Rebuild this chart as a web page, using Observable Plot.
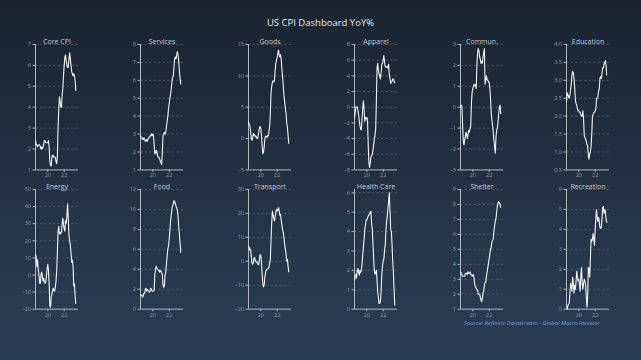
<!DOCTYPE html>
<html>
<head>
<meta charset="utf-8">
<script src="https://cdn.jsdelivr.net/npm/d3@7"></script>
<script src="https://cdn.jsdelivr.net/npm/@observablehq/plot@0.6"></script>
<style>
  html, body { margin: 0; padding: 0; }
  #root {
    position: relative; width: 641px; height: 360px; overflow: hidden;
    background: linear-gradient(180deg, #1b2330 0%, #243244 55%, #2c3e54 100%);
    font-family: "Open Sans", "DejaVu Sans", sans-serif;
  }
  #title {
    position: absolute; left: 0; width: 641px; top: 16px; text-align: center;
    color: #e6eaee; font-size: 9.5px;
  }
  #source {
    position: absolute; left: 464px; top: 319px; color: #7b9fd6;
    font-size: 5.9px; font-style: italic; white-space: nowrap;
  }
  .panel { position: absolute; }
</style>
</head>
<body>
<div id="root">
  <div id="title">US CPI Dashboard YoY%</div>
  <div id="source">Source: Refinitiv Datastream - Global Macro Investor</div>
</div>
<script>
// Monthly observations, Jul 2018 – Jun 2023
const months = d3.utcMonth.range(new Date(Date.UTC(2018, 6, 1)), new Date(Date.UTC(2023, 6, 1)));
const xTicks = [new Date(Date.UTC(2020, 0, 1)), new Date(Date.UTC(2022, 0, 1))];

const titles = ["Core CPI", "Services", "Goods", "Apparel", "Commun.", "Education",
                "Energy", "Food", "Transport", "Health Care", "Shelter", "Recreation"];

const coreCPI = [2.4,2.2,2.2,2.1,2.2,2.2, 2.2,2.1,2.0,2.1,2.0,2.1,2.2,2.4,2.4,2.3,2.3,2.3,
  2.3,2.4,2.1,1.4,1.2,1.2,1.6,1.7,1.7,1.6,1.6,1.6, 1.4,1.3,1.6,3.0,3.8,4.5,4.3,4.0,4.0,4.6,4.9,5.5,
  6.0,6.4,6.5,6.2,6.0,5.9,5.9,6.3,6.6,6.3,6.0,5.7, 5.6,5.5,5.6,5.5,5.3,4.8];
const services = [2.9,2.8,2.8,2.7,2.7,2.8, 2.7,2.6,2.6,2.7,2.6,2.7, 2.8,2.8,2.9,2.9,3.0,2.9,
  3.0,2.9,2.4,1.9,1.9,2.1, 2.0,1.8,1.7,1.7,1.6,1.5, 1.4,1.3,2.0,2.9,3.0,3.1,
  3.0,3.1,3.4,3.7,4.0,4.4, 4.7,5.0,5.2,5.5,5.9,6.2, 6.2,6.7,7.2,7.3,7.2,7.4, 7.6,7.4,7.1,6.5,6.1,5.8];
const goods = [2.7,2.2,2.0,1.2,0.0,-0.3, 0.2,0.8,0.5,0.6,0.3,0.4, 0.1,0.0,0.3,1.0,1.7,1.9,
  1.6,0.5,-1.2,-2.4,-2.2,-1.2, 0.0,0.4,0.3,0.2,0.5,0.4, 1.2,2.0,4.0,7.3,8.3,9.0,
  9.2,9.0,9.3,10.8,12.0,12.5, 13.0,13.6,14.1,13.3,13.0,13.4, 12.5,11.0,9.8,8.3,6.8,5.8, 4.8,4.0,2.5,1.8,0.5,-0.8];
const apparel = [-1.4,-0.6,0.0,0.1,0.0,-0.4, -1.0,-1.8,-2.4,-2.8,-2.9,-1.5, -0.2,0.8,-0.3,-1.8,-1.3,-1.5,
  -1.3,-1.6,-4.5,-7.0,-7.7,-7.1, -6.4,-6.2,-6.0,-5.5,-4.8,-4.1, -3.6,-2.7,0.5,5.0,5.6,4.6,
  4.2,4.0,3.6,4.5,5.5,5.6, 6.0,6.6,5.8,5.2,5.1,5.1, 5.2,5.0,5.5,4.1,3.6,3.0, 3.3,3.3,3.6,3.6,3.3,3.1];
const commun = [0.0,0.1,0.0,-0.8,-1.6,-1.8, -1.6,-1.4,-1.2,-1.3,-1.5,-1.3, -1.1,-1.2,-1.0,-0.9,0.2,0.7,
  0.9,1.0,1.1,1.1,1.0,0.9, 2.0,2.6,2.8,2.7,2.4,2.3, 2.1,2.2,2.1,2.4,2.6,2.8,
  1.1,1.3,1.5,1.3,1.3,1.2, 1.2,0.9,0.4,-0.3,-0.6,-0.9, -1.2,-1.6,-1.9,-2.2,-1.4,-1.1, -1.0,-0.7,-0.3,0.0,0.1,-0.3];
const education = [2.4,2.65,2.6,2.55,2.5,2.6, 2.75,2.9,3.15,3.25,3.2,3.05, 2.8,2.45,2.35,2.3,2.2,2.15,
  2.15,2.1,2.1,2.05,2.0,2.0, 2.15,1.9,1.45,1.4,1.35,1.3, 1.2,1.15,0.9,0.8,0.95,1.0,
  1.15,1.5,2.0,2.05,2.1,2.1, 2.15,2.2,2.5,2.5,2.55,2.7, 2.75,3.05,3.1,3.05,3.2,3.35, 3.35,3.45,3.5,3.55,3.4,3.15];
const energy = [12.1,10.2,4.8,8.9,3.1,0.3, -4.8,-5.0,-0.4,1.7,-0.6,-3.4, -2.0,-4.4,-4.8,-4.2,-0.6,3.4,
  6.2,2.8,-5.7,-17.7,-18.9,-12.6, -11.2,-9.0,-7.7,-9.2,-9.4,-7.0, -3.6,2.4,13.2,25.1,28.5,24.5,
  23.8,25.0,24.8,30.0,33.3,29.3, 27.0,25.6,32.0,30.3,34.6,41.6, 32.9,23.8,19.8,17.6,13.1,7.3, 8.7,5.2,-6.4,-5.1,-11.7,-16.7];
const food = [1.4,1.4,1.4,1.2,1.4,1.6, 1.6,2.0,2.1,1.8,2.0,1.9, 1.8,1.7,1.8,2.1,2.0,1.8,
  1.8,1.8,1.9,3.5,4.0,4.3, 4.1,4.0,3.9,3.9,3.7,3.9, 3.8,3.6,3.5,2.4,2.2,2.4,
  3.4,3.7,4.6,5.3,6.1,6.3, 7.0,7.9,8.8,9.4,10.0,10.4, 10.5,10.9,10.8,10.6,10.3,10.2, 9.9,9.3,8.3,7.5,6.6,5.7];
const transport = [6.3,5.8,4.6,5.0,2.5,-0.5, -1.2,-0.5,1.2,1.6,0.3,-0.3, 0.0,-0.8,-1.2,-1.4,0.8,2.8,
  2.5,-0.5,-5.5,-9.5,-10.7,-9.8, -6.5,-4.8,-3.5,-3.4,-3.3,-2.8, -2.5,-0.5,0.5,9.0,16.0,21.0,
  19.5,18.0,16.9,18.5,20.5,21.8, 21.0,21.5,22.5,21.0,19.2,19.5, 17.0,15.0,13.0,12.0,9.5,7.0, 5.0,3.0,0.2,0.8,-2.0,-4.4];
const healthCare = [1.5,1.7,1.8,1.6,2.0,2.1, 1.9,1.75,2.0,1.9,2.0,2.3, 2.8,3.2,3.6,4.1,4.3,4.6,
  4.6,4.7,4.8,4.85,4.9,5.0, 5.05,4.4,4.1,3.4,2.6,2.0, 1.8,1.9,2.0,1.5,0.9,0.6,
  0.3,0.3,0.4,1.0,1.8,2.2, 2.5,2.6,3.0,3.3,4.0,4.5, 4.8,5.2,5.6,6.0,5.0,4.1, 4.0,3.3,2.5,1.9,1.0,0.2];
const shelter = [3.5,3.4,3.3,3.2,3.2,3.2, 3.2,3.4,3.4,3.4,3.3,3.5, 3.4,3.4,3.5,3.3,3.3,3.2,
  3.3,3.3,3.0,2.6,2.5,2.4, 2.3,2.3,2.0,2.0,2.0,1.8, 1.6,1.5,1.7,2.1,2.2,2.6,
  2.8,2.8,3.2,3.5,3.8,4.1, 4.4,4.7,5.0,5.1,5.5,5.6, 5.7,6.2,6.6,6.9,7.1,7.5, 7.9,8.1,8.2,8.1,8.0,7.8];
const recreation = [0.1,0.0,0.2,0.25,0.3,0.8, 1.3,1.1,0.9,1.6,1.3,0.8, 1.2,1.0,1.4,1.9,1.6,1.4,
  1.5,1.2,0.9,1.7,2.1,1.3, 1.0,1.3,1.5,1.4,1.2,0.6, 0.1,0.7,2.1,2.0,1.6,2.5,
  3.5,3.4,3.5,3.8,3.5,3.2, 4.0,4.6,5.0,4.6,4.4,4.6, 4.4,4.1,4.05,4.1,4.5,5.1, 5.15,4.8,5.0,4.9,4.5,4.35];

// y-axis tick labels per panel
const yTicks = [
  [1,2,3,4,5,6,7], [1,2,3,4,5,6,7,8], [-5,0,5,10,15], [-8,-6,-4,-2,0,2,4,6,8],
  [-3,-2,-1,0,1,2,3], [0.5,1.0,1.5,2.0,2.5,3.0,3.5,4.0],
  [-20,-10,0,10,20,30,40,50], [0,2,4,6,8,10,12], [-20,-10,0,10,20,30],
  [0,1,2,3,4,5,6], [1,2,3,4,5,6,7,8,9], [0,1,2,3,4,5,6]
];
const yDomains = [
  [1,7],[1,8],[-5,15],[-8,8],[-3,3],[0.5,4.0],
  [-20,50],[0,12],[-20,30],[0,6.17],[1,9],[0,6]
];
const seriesList = [coreCPI, services, goods, apparel, commun, education,
                    energy, food, transport, healthCare, shelter, recreation];

// layout
const colX = [35, 140, 247.7, 354, 460.3, 565.7];
const rowTop = [44.3, 189.3];
const rowH = [125.4, 119.7];
const PW = 43, ML = 20, MR = 5, MT = 14, MB = 14;
const xDomain = [new Date(Date.UTC(2018, 6, 1)), new Date(Date.UTC(2023, 9, 1))];

const axisColor = "#aeb7c2";
const labelColor = "#8f99a5";
const gridColor = "#586474";

const root = document.getElementById("root");

seriesList.forEach((vals, k) => {
  const row = Math.floor(k / 6), col = k % 6;
  const data = vals.map((v, i) => ({date: months[i], value: v}));
  const dom = yDomains[k];
  const ticks = yTicks[k];
  const fmt = k === 5 ? d3.format(".1f") : d3.format("d");
  const chart = Plot.plot({
    width: ML + PW + MR,
    height: MT + rowH[row] + MB,
    marginLeft: ML, marginRight: MR, marginTop: MT, marginBottom: MB,
    style: {background: "transparent", color: labelColor, fontFamily: "'Open Sans', sans-serif", overflow: "visible"},
    x: {type: "utc", domain: xDomain},
    y: {domain: dom},
    marks: [
      Plot.ruleY(ticks.filter(d => d > dom[0]), {stroke: gridColor, strokeDasharray: "2.5,2", strokeWidth: 0.7}),
      Plot.ruleX([xDomain[0]], {stroke: axisColor, strokeWidth: 1}),
      Plot.ruleY([dom[0]], {stroke: axisColor, strokeWidth: 1}),
      Plot.axisY({ticks, tickFormat: fmt, tickSize: 2.5, tickPadding: 2, label: null, fontSize: 5.5, stroke: axisColor, fill: labelColor}),
      Plot.axisX({ticks: xTicks, tickFormat: d3.utcFormat("%y"), tickSize: 2.5, tickPadding: 1, label: null, fontSize: 5.5, stroke: axisColor, fill: labelColor}),
      Plot.line(data, {x: "date", y: "value", stroke: "#f4f4f4", strokeWidth: 1.1}),
      Plot.text([titles[k]], {text: d => d, frameAnchor: "top", dy: -5, fill: "#c3cad3", fontSize: 7})
    ]
  });
  const wrap = document.createElement("div");
  wrap.className = "panel";
  wrap.style.left = (colX[col] - ML) + "px";
  wrap.style.top = (rowTop[row] - MT) + "px";
  wrap.appendChild(chart);
  root.appendChild(wrap);
});
</script>
</body>
</html>
